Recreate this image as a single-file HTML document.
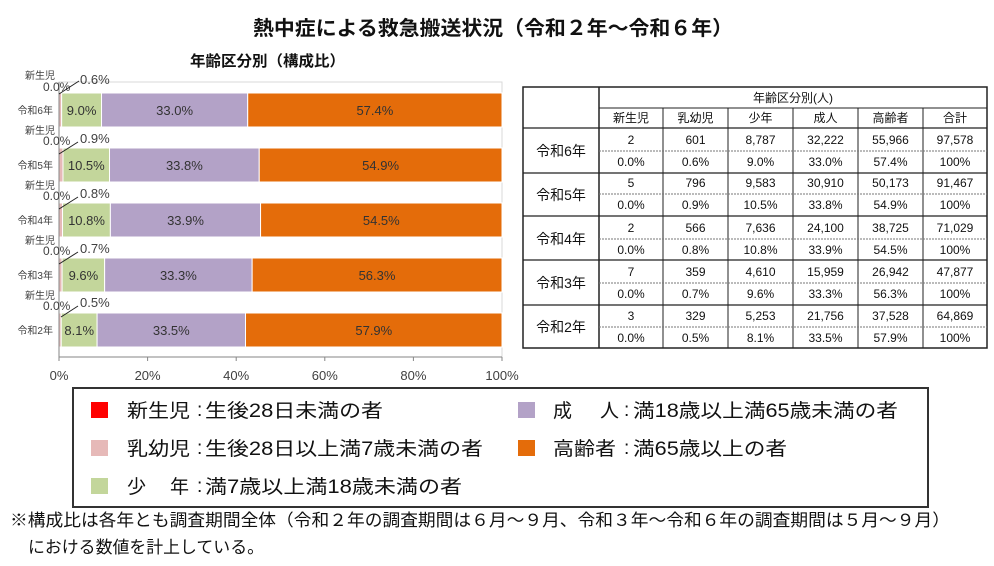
<!DOCTYPE html>
<html><head><meta charset="utf-8"><style>
html,body{margin:0;padding:0;background:#fff;}
svg{display:block;font-family:"Liberation Sans","Noto Sans CJK JP",sans-serif;}
</style></head><body>
<svg width="994" height="566" viewBox="0 0 994 566" xmlns="http://www.w3.org/2000/svg">
<rect width="994" height="566" fill="#fff"/>
<!-- Title -->
<text x="253" y="35" font-size="20" font-weight="bold" fill="#111" textLength="480" lengthAdjust="spacingAndGlyphs">熱中症による救急搬送状況（令和２年～令和６年）</text>
<text x="190" y="66" font-size="15" font-weight="bold" fill="#111" textLength="155" lengthAdjust="spacingAndGlyphs">年齢区分別（構成比）</text>

<!-- plot area border -->
<rect x="59" y="82" width="443" height="275" fill="none" stroke="#d9d9d9" stroke-width="1"/>

<!-- Bars -->
<g stroke="#fff" stroke-width="1">
<!-- R6 -->
<rect x="59" y="93" width="2.66" height="34" fill="#E6B9B8"/>
<rect x="61.66" y="93" width="39.87" height="34" fill="#C3D69B"/>
<rect x="101.53" y="93" width="146.19" height="34" fill="#B3A2C7"/>
<rect x="247.72" y="93" width="254.28" height="34" fill="#E46C0A"/>
<!-- R5 -->
<rect x="59" y="148" width="3.99" height="34" fill="#E6B9B8"/>
<rect x="62.99" y="148" width="46.52" height="34" fill="#C3D69B"/>
<rect x="109.51" y="148" width="149.73" height="34" fill="#B3A2C7"/>
<rect x="259.24" y="148" width="242.76" height="34" fill="#E46C0A"/>
<!-- R4 -->
<rect x="59" y="203" width="3.54" height="34" fill="#E6B9B8"/>
<rect x="62.54" y="203" width="47.84" height="34" fill="#C3D69B"/>
<rect x="110.38" y="203" width="150.18" height="34" fill="#B3A2C7"/>
<rect x="260.56" y="203" width="241.44" height="34" fill="#E46C0A"/>
<!-- R3 -->
<rect x="59" y="258" width="3.10" height="34" fill="#E6B9B8"/>
<rect x="62.10" y="258" width="42.53" height="34" fill="#C3D69B"/>
<rect x="104.63" y="258" width="147.52" height="34" fill="#B3A2C7"/>
<rect x="252.15" y="258" width="249.85" height="34" fill="#E46C0A"/>
<!-- R2 -->
<rect x="59" y="313" width="2.22" height="34" fill="#E6B9B8"/>
<rect x="61.22" y="313" width="35.88" height="34" fill="#C3D69B"/>
<rect x="97.10" y="313" width="148.41" height="34" fill="#B3A2C7"/>
<rect x="245.51" y="313" width="256.49" height="34" fill="#E46C0A"/>
</g>

<!-- axes -->
<line x1="59" y1="82" x2="59" y2="357" stroke="#868686" stroke-width="1"/>
<line x1="59" y1="357" x2="502" y2="357" stroke="#868686" stroke-width="1"/>
<g stroke="#868686" stroke-width="1">
<line x1="59" y1="357" x2="59" y2="361"/>
<line x1="147.6" y1="357" x2="147.6" y2="361"/>
<line x1="236.2" y1="357" x2="236.2" y2="361"/>
<line x1="324.8" y1="357" x2="324.8" y2="361"/>
<line x1="413.4" y1="357" x2="413.4" y2="361"/>
<line x1="502" y1="357" x2="502" y2="361"/>
</g>
<g font-size="13" fill="#404040" text-anchor="middle">
<text x="59" y="380">0%</text>
<text x="147.6" y="380">20%</text>
<text x="236.2" y="380">40%</text>
<text x="324.8" y="380">60%</text>
<text x="413.4" y="380">80%</text>
<text x="502" y="380">100%</text>
</g>

<!-- category labels -->
<g font-size="10" fill="#404040" text-anchor="end">
<text x="53" y="114">令和6年</text>
<text x="53" y="169">令和5年</text>
<text x="53" y="224">令和4年</text>
<text x="53" y="279">令和3年</text>
<text x="53" y="334">令和2年</text>
</g>

<!-- in-bar labels -->
<g font-size="13" fill="#333" text-anchor="middle">
<text x="81.6" y="115">9.0%</text>
<text x="174.6" y="115">33.0%</text>
<text x="374.9" y="115">57.4%</text>
<text x="86.3" y="170">10.5%</text>
<text x="184.4" y="170">33.8%</text>
<text x="380.6" y="170">54.9%</text>
<text x="86.5" y="225">10.8%</text>
<text x="185.5" y="225">33.9%</text>
<text x="381.3" y="225">54.5%</text>
<text x="83.4" y="280">9.6%</text>
<text x="178.4" y="280">33.3%</text>
<text x="377" y="280">56.3%</text>
<text x="79.2" y="335">8.1%</text>
<text x="171.3" y="335">33.5%</text>
<text x="373.8" y="335">57.9%</text>
</g>

<!-- small newborn/infant labels -->
<g fill="#404040">
<g font-size="10" text-anchor="end">
<text x="55" y="79">新生児</text>
<text x="55" y="134">新生児</text>
<text x="55" y="189">新生児</text>
<text x="55" y="244">新生児</text>
<text x="55" y="299">新生児</text>
</g>
<g font-size="12">
<text x="43" y="91">0.0%</text>
<text x="43" y="145">0.0%</text>
<text x="43" y="200">0.0%</text>
<text x="43" y="255">0.0%</text>
<text x="43" y="310">0.0%</text>
</g>
<g font-size="13">
<text x="80" y="84">0.6%</text>
<text x="80" y="143">0.9%</text>
<text x="80" y="198">0.8%</text>
<text x="80" y="253">0.7%</text>
<text x="80" y="307">0.5%</text>
</g>
</g>
<g stroke="#222" stroke-width="1">
<line x1="59" y1="94" x2="79" y2="81"/>
<line x1="59" y1="154" x2="78" y2="142"/>
<line x1="59" y1="209" x2="78" y2="197"/>
<line x1="59" y1="264" x2="78" y2="252"/>
<line x1="61" y1="317" x2="78" y2="306"/>
</g>

<!-- Table -->
<g stroke="#222" fill="none">
<rect x="523" y="87" width="464" height="261" stroke-width="1.5"/>
<line x1="599" y1="87" x2="599" y2="348" stroke-width="1.5"/>
<line x1="599" y1="108" x2="987" y2="108" stroke-width="1"/>
<line x1="523" y1="128" x2="987" y2="128" stroke-width="1.2"/>
<line x1="523" y1="173" x2="987" y2="173" stroke-width="1.2"/>
<line x1="523" y1="216" x2="987" y2="216" stroke-width="1.2"/>
<line x1="523" y1="260" x2="987" y2="260" stroke-width="1.2"/>
<line x1="523" y1="305" x2="987" y2="305" stroke-width="1.2"/>
<g stroke-width="1">
<line x1="663" y1="108" x2="663" y2="348"/>
<line x1="728" y1="108" x2="728" y2="348"/>
<line x1="793" y1="108" x2="793" y2="348"/>
<line x1="858" y1="108" x2="858" y2="348"/>
<line x1="923" y1="108" x2="923" y2="348"/>
</g>
<g stroke="#777" stroke-width="1" stroke-dasharray="2,1">
<line x1="599" y1="151" x2="987" y2="151"/>
<line x1="599" y1="194" x2="987" y2="194"/>
<line x1="599" y1="239" x2="987" y2="239"/>
<line x1="599" y1="283" x2="987" y2="283"/>
<line x1="599" y1="327" x2="987" y2="327"/>
</g>
</g>
<g font-size="12" fill="#111" text-anchor="middle">
<text x="793" y="102">年齢区分別(人)</text>
<text x="631" y="122">新生児</text>
<text x="695.5" y="122">乳幼児</text>
<text x="760.5" y="122">少年</text>
<text x="825.5" y="122">成人</text>
<text x="890.5" y="122">高齢者</text>
<text x="955" y="122">合計</text>

<text x="631" y="144">2</text><text x="695.5" y="144">601</text><text x="760.5" y="144">8,787</text><text x="825.5" y="144">32,222</text><text x="890.5" y="144">55,966</text><text x="955" y="144">97,578</text>
<text x="631" y="166">0.0%</text><text x="695.5" y="166">0.6%</text><text x="760.5" y="166">9.0%</text><text x="825.5" y="166">33.0%</text><text x="890.5" y="166">57.4%</text><text x="955" y="166">100%</text>

<text x="631" y="187">5</text><text x="695.5" y="187">796</text><text x="760.5" y="187">9,583</text><text x="825.5" y="187">30,910</text><text x="890.5" y="187">50,173</text><text x="955" y="187">91,467</text>
<text x="631" y="209">0.0%</text><text x="695.5" y="209">0.9%</text><text x="760.5" y="209">10.5%</text><text x="825.5" y="209">33.8%</text><text x="890.5" y="209">54.9%</text><text x="955" y="209">100%</text>

<text x="631" y="232">2</text><text x="695.5" y="232">566</text><text x="760.5" y="232">7,636</text><text x="825.5" y="232">24,100</text><text x="890.5" y="232">38,725</text><text x="955" y="232">71,029</text>
<text x="631" y="254">0.0%</text><text x="695.5" y="254">0.8%</text><text x="760.5" y="254">10.8%</text><text x="825.5" y="254">33.9%</text><text x="890.5" y="254">54.5%</text><text x="955" y="254">100%</text>

<text x="631" y="276">7</text><text x="695.5" y="276">359</text><text x="760.5" y="276">4,610</text><text x="825.5" y="276">15,959</text><text x="890.5" y="276">26,942</text><text x="955" y="276">47,877</text>
<text x="631" y="298">0.0%</text><text x="695.5" y="298">0.7%</text><text x="760.5" y="298">9.6%</text><text x="825.5" y="298">33.3%</text><text x="890.5" y="298">56.3%</text><text x="955" y="298">100%</text>

<text x="631" y="320">3</text><text x="695.5" y="320">329</text><text x="760.5" y="320">5,253</text><text x="825.5" y="320">21,756</text><text x="890.5" y="320">37,528</text><text x="955" y="320">64,869</text>
<text x="631" y="342">0.0%</text><text x="695.5" y="342">0.5%</text><text x="760.5" y="342">8.1%</text><text x="825.5" y="342">33.5%</text><text x="890.5" y="342">57.9%</text><text x="955" y="342">100%</text>
</g>
<g font-size="14" fill="#111" text-anchor="middle">
<text x="561" y="156">令和6年</text>
<text x="561" y="200">令和5年</text>
<text x="561" y="244">令和4年</text>
<text x="561" y="288">令和3年</text>
<text x="561" y="332">令和2年</text>
</g>

<!-- Legend -->
<rect x="73" y="388" width="855" height="119" fill="none" stroke="#333" stroke-width="2"/>
<rect x="91" y="402" width="17" height="16" fill="#FF0000"/>
<rect x="91" y="440" width="17" height="16" fill="#E6B9B8"/>
<rect x="91" y="478" width="17" height="16" fill="#C3D69B"/>
<rect x="518" y="402" width="17" height="16" fill="#B3A2C7"/>
<rect x="518" y="440" width="17" height="16" fill="#E46C0A"/>
<g font-size="19" fill="#111">
<text x="127" y="417" textLength="63" lengthAdjust="spacingAndGlyphs">新生児</text>
<text x="197" y="416">:</text>
<text x="205" y="417" textLength="178" lengthAdjust="spacingAndGlyphs">生後28日未満の者</text>
<text x="127" y="455" textLength="63" lengthAdjust="spacingAndGlyphs">乳幼児</text>
<text x="197" y="454">:</text>
<text x="205" y="455" textLength="278" lengthAdjust="spacingAndGlyphs">生後28日以上満7歳未満の者</text>
<text x="127" y="493">少</text>
<text x="170" y="493">年</text>
<text x="197" y="492">:</text>
<text x="205" y="493" textLength="257" lengthAdjust="spacingAndGlyphs">満7歳以上満18歳未満の者</text>
<text x="553" y="417">成</text>
<text x="600" y="417">人</text>
<text x="624" y="416">:</text>
<text x="633" y="417" textLength="265" lengthAdjust="spacingAndGlyphs">満18歳以上満65歳未満の者</text>
<text x="553" y="455" textLength="63" lengthAdjust="spacingAndGlyphs">高齢者</text>
<text x="624" y="454">:</text>
<text x="633" y="455" textLength="154" lengthAdjust="spacingAndGlyphs">満65歳以上の者</text>
</g>

<!-- Footnote -->
<g font-size="17" fill="#111">
<text x="10" y="526" textLength="940" lengthAdjust="spacingAndGlyphs">※構成比は各年とも調査期間全体（令和２年の調査期間は６月～９月、令和３年～令和６年の調査期間は５月～９月）</text>
<text x="28" y="553" textLength="236" lengthAdjust="spacingAndGlyphs">における数値を計上している。</text>
</g>
</svg>
</body></html>
